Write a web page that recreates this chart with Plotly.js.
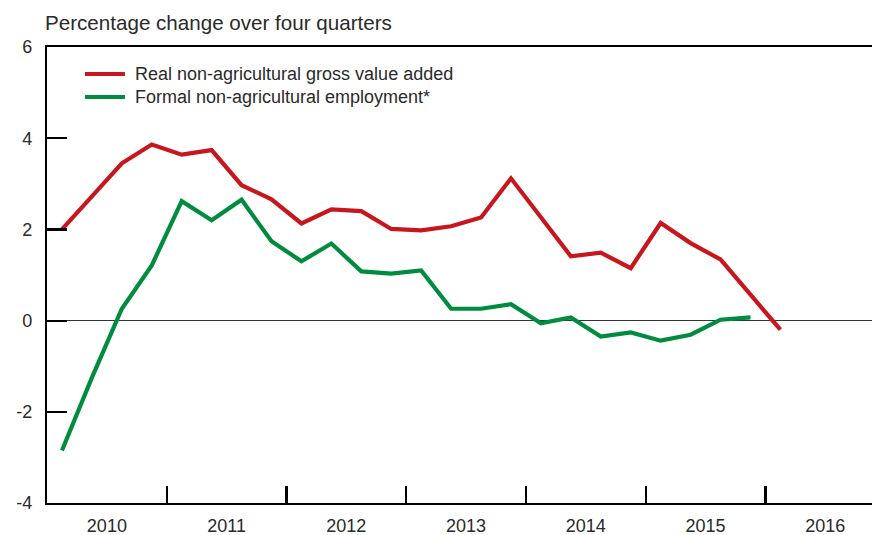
<!DOCTYPE html>
<html>
<head>
<meta charset="utf-8">
<script src="https://cdn.plot.ly/plotly-3.0.1.min.js"></script>
<style>html,body{margin:0;padding:0;background:#fff;}#chart{width:872px;height:535px;}</style>
</head>
<body>
<div id="chart"></div>
<script>
// Quarter labels (plotted at mid-quarter, in years)
const quarters = [
  "2010Q1","2010Q2","2010Q3","2010Q4",
  "2011Q1","2011Q2","2011Q3","2011Q4",
  "2012Q1","2012Q2","2012Q3","2012Q4",
  "2013Q1","2013Q2","2013Q3","2013Q4",
  "2014Q1","2014Q2","2014Q3","2014Q4",
  "2015Q1","2015Q2","2015Q3","2015Q4",
  "2016Q1"
];
const gvaValues = [
  2.00, 2.72, 3.45, 3.86,
  3.64, 3.74, 2.97, 2.66,
  2.13, 2.44, 2.40, 2.01,
  1.98, 2.07, 2.26, 3.12,
  2.26, 1.41, 1.49, 1.15,
  2.14, 1.70, 1.34, 0.58,
  -0.20
];
const employmentValues = [
  -2.85, -1.25, 0.26, 1.21,
  2.62, 2.20, 2.65, 1.74,
  1.30, 1.69, 1.08, 1.03,
  1.10, 0.26, 0.26, 0.36,
  -0.06, 0.07, -0.35, -0.26,
  -0.44, -0.31, 0.02, 0.07
];
const seriesNames = ["Real non-agricultural gross value added", "Formal non-agricultural employment*"];
const seriesColors = ["#c8161e", "#008c3f"];
const yearLabels = ["2010","2011","2012","2013","2014","2015","2016"];
const yearBoundaries = [2011, 2012, 2013, 2014, 2015, 2016];
const yTicks = [-4, -2, 0, 2, 4, 6];

function qToX(q) {
  const y = parseInt(q.slice(0, 4), 10);
  const n = parseInt(q.slice(5), 10);
  return y + (n - 0.5) / 4;
}
const xGva = quarters.slice(0, gvaValues.length).map(qToX);
const xEmp = quarters.slice(0, employmentValues.length).map(qToX);
const yearCenters = yearLabels.map(y => parseInt(y, 10) + 0.5);

const FONT = "Liberation Sans, Arial, sans-serif";
const TXT = "#2a2a2a";

const traces = [
  {
    x: xGva, y: gvaValues, type: "scatter", mode: "lines",
    name: seriesNames[0], showlegend: false,
    line: {color: seriesColors[0], width: 4.2}
  },
  {
    x: xEmp, y: employmentValues, type: "scatter", mode: "lines",
    name: seriesNames[1], showlegend: false,
    line: {color: seriesColors[1], width: 4.2}
  }
];

// Legend drawn as key lines + labels (paper coordinates)
const legendRowsY = [0.9408, 0.8904];
const legendShapes = seriesNames.map((n, i) => ({
  type: "line", xref: "paper", yref: "paper",
  x0: 0.046, x1: 0.0945, y0: legendRowsY[i], y1: legendRowsY[i],
  line: {color: seriesColors[i], width: 4.2}
}));
const legendLabels = seriesNames.map((n, i) => ({
  text: n, xref: "paper", yref: "paper", x: 0.1042, y: legendRowsY[i],
  xanchor: "left", yanchor: "middle", showarrow: false,
  font: {family: FONT, size: 18, color: TXT}
}));

const layout = {
  width: 872, height: 535,
  margin: {l: 47, r: 0, t: 47, b: 32, pad: 0},
  paper_bgcolor: "#fff", plot_bgcolor: "#fff",
  font: {family: FONT, color: TXT, size: 18},
  showlegend: false,
  xaxis: {
    range: [2010, 2016.89],
    tickmode: "array", tickvals: yearCenters, ticktext: yearLabels,
    ticks: "", showgrid: false, zeroline: false,
    showline: true, linecolor: "#000", linewidth: 2.2, mirror: true,
    tickfont: {family: FONT, size: 18, color: TXT},
    ticklabelstandoff: 5,
    minor: {tickmode: "array", tickvals: yearBoundaries, ticks: "inside", ticklen: 17, tickwidth: 2.2, tickcolor: "#000", showgrid: false},
    fixedrange: true
  },
  yaxis: {
    range: [-4, 6],
    tickmode: "array", tickvals: yTicks, ticktext: yTicks.map(String),
    ticks: "inside", ticklen: 20, tickwidth: 2.2, tickcolor: "#000",
    showgrid: false,
    zeroline: true, zerolinecolor: "#333", zerolinewidth: 1.2,
    showline: true, linecolor: "#000", linewidth: 2.2,
    tickfont: {family: FONT, size: 18, color: TXT},
    ticklabelstandoff: 9,
    fixedrange: true
  },
  shapes: legendShapes,
  annotations: [
    {
      text: "Percentage change over four quarters",
      xref: "paper", yref: "paper", x: 0, y: 1, xshift: -4, yshift: 11,
      xanchor: "left", yanchor: "bottom", showarrow: false,
      font: {family: FONT, size: 20.6, color: TXT}
    }
  ].concat(legendLabels)
};

Plotly.newPlot("chart", traces, layout, {staticPlot: true, displayModeBar: false});
</script>
</body>
</html>
